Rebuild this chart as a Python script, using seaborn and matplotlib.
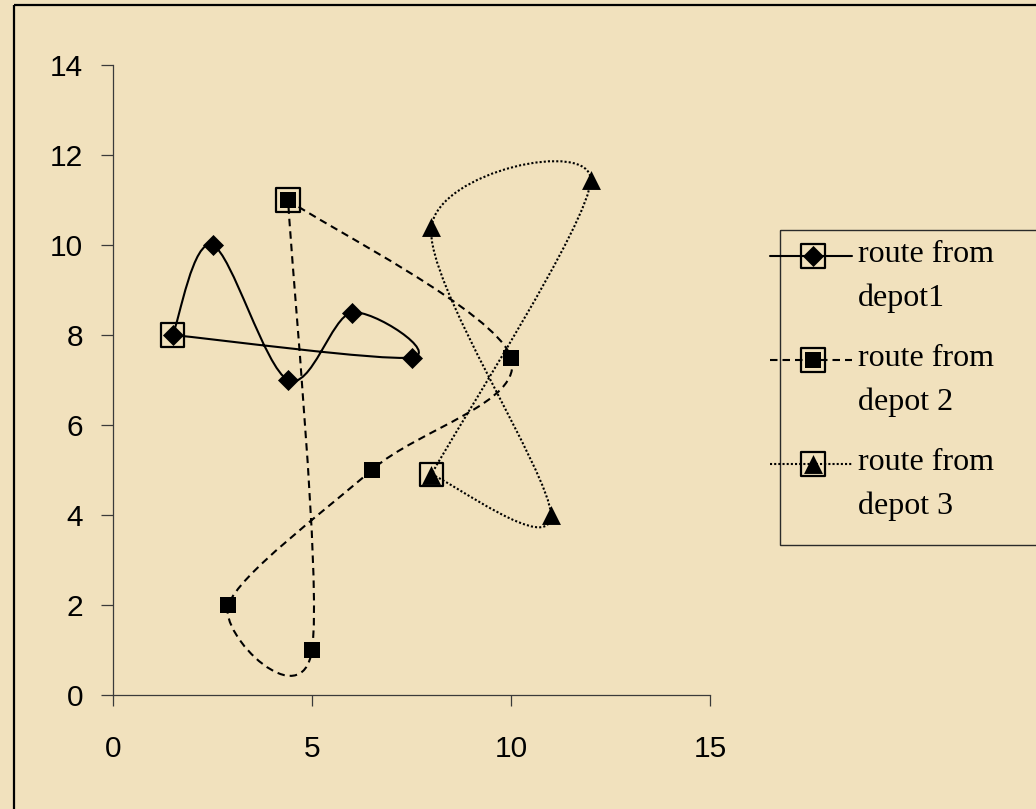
import numpy as np
import matplotlib
matplotlib.use("Agg")
import matplotlib.pyplot as plt
from matplotlib.path import Path
from matplotlib.patches import PathPatch, Rectangle
import seaborn as sns

# Vehicle routes: each starts and ends at its depot (first/last point)
route1_x = [1.5, 2.5, 4.4, 6.0, 7.5, 1.5]
route1_y = [8.0, 10.0, 7.0, 8.5, 7.5, 8.0]

route2_x = [4.4, 10.0, 6.5, 2.9, 5.0, 4.4]
route2_y = [11.0, 7.5, 5.0, 2.0, 1.0, 11.0]

route3_x = [8.0, 11.0, 8.0, 12.0, 8.0]
route3_y = [4.9, 4.0, 10.4, 11.45, 4.9]

route_first_lines = ["route from", "route from", "route from"]
route_second_lines = ["depot1", "depot 2", "depot 3"]

x_ticks = [0, 5, 10, 15]
y_ticks = [0, 2, 4, 6, 8, 10, 12, 14]

PAPER = "#F1E1BD"
INK = "black"
AXIS_GREY = "#3a3a3a"

styles = [
    dict(marker="D", s=115, ls="-"),
    dict(marker="s", s=125, ls=(0, (3.6, 2.4))),
    dict(marker="^", s=185, ls=(0, (1, 1))),
]
routes = [(route1_x, route1_y), (route2_x, route2_y), (route3_x, route3_y)]

sns.set_theme(style="ticks")
plt.rcParams["font.family"] = ["Liberation Sans", "DejaVu Sans"]

W, H = 1036, 809
fig = plt.figure(figsize=(W / 100, H / 100), dpi=100, facecolor=PAPER)
ax = fig.add_axes([113 / W, 1 - 695 / H, (710 - 113) / W, (695 - 65) / H])
ax.set_facecolor("none")


def smooth_path(xs, ys):
    """Smoothed route: cubic Bezier segments through every stop."""
    pts = np.column_stack([xs, ys]).astype(float)
    padded = np.vstack([pts[0], pts, pts[-1]])
    verts = [pts[0]]
    codes = [Path.MOVETO]
    for i in range(len(pts) - 1):
        p_prev, p0, p1, p_next = padded[i], padded[i + 1], padded[i + 2], padded[i + 3]
        verts += [p0 + (p1 - p_prev) / 6.0, p1 - (p_next - p0) / 6.0, p1]
        codes += [Path.CURVE4] * 3
    return Path(verts, codes)


for (xs, ys), st in zip(routes, styles):
    ax.add_patch(PathPatch(smooth_path(xs, ys), fill=False, ec=INK,
                           lw=1.5, ls=st["ls"], zorder=2))
    # customer stops
    sns.scatterplot(x=xs[:-1], y=ys[:-1], marker=st["marker"], s=st["s"],
                    color=INK, linewidth=0, ax=ax, zorder=3, legend=False)
    # depot frame
    ax.scatter([xs[0]], [ys[0]], marker="s", s=280, facecolors="none",
               edgecolors=INK, linewidths=1.6, zorder=4)

ax.set_xlim(0, 15)
ax.set_ylim(0, 14)
ax.set_xticks(x_ticks)
ax.set_yticks(y_ticks)
ax.set_xticklabels([str(v) for v in x_ticks])
ax.set_yticklabels([str(v) for v in y_ticks])
for side in ("top", "right"):
    ax.spines[side].set_visible(False)
for side in ("left", "bottom"):
    ax.spines[side].set_color(AXIS_GREY)
    ax.spines[side].set_linewidth(0.9)
ax.tick_params(axis="y", direction="out", length=8.6, width=0.9,
               color=AXIS_GREY, pad=13, labelsize=21.5, labelcolor=INK)
ax.tick_params(axis="x", direction="out", length=8.0, width=0.9,
               color=AXIS_GREY, pad=21, labelsize=21.5, labelcolor=INK)
ax.set_xlabel("")
ax.set_ylabel("")

# Overlay in pixel units for the chart frame and the legend
lax = fig.add_axes([0, 0, 1, 1], zorder=5)
lax.set_xlim(0, W)
lax.set_ylim(H, 0)
lax.axis("off")

lax.add_patch(Rectangle((14, 5), W, H, fill=False, ec=INK, lw=1.6))
lax.add_patch(Rectangle((780, 230), 300, 315, fill=False, ec="#2a2a2a", lw=1.0))

baselines = [262, 366, 470]
for st, first, second, base in zip(styles, route_first_lines, route_second_lines, baselines):
    hy = base - 6
    lax.plot([770, 852], [hy, hy], color=INK, lw=1.5, ls=st["ls"])
    lax.scatter([813], [hy], marker=st["marker"], s=st["s"], color=INK,
                linewidths=0, zorder=3)
    lax.scatter([813], [hy], marker="s", s=280, facecolors="none",
                edgecolors=INK, linewidths=1.6, zorder=4)
    lax.text(858, base, first, va="baseline", ha="left", color=INK,
             family=["Liberation Serif", "DejaVu Serif"], size=23)
    lax.text(858, base + 44, second, va="baseline", ha="left", color=INK,
             family=["Liberation Serif", "DejaVu Serif"], size=23)

fig.savefig("out.png", dpi=100, facecolor=PAPER)
